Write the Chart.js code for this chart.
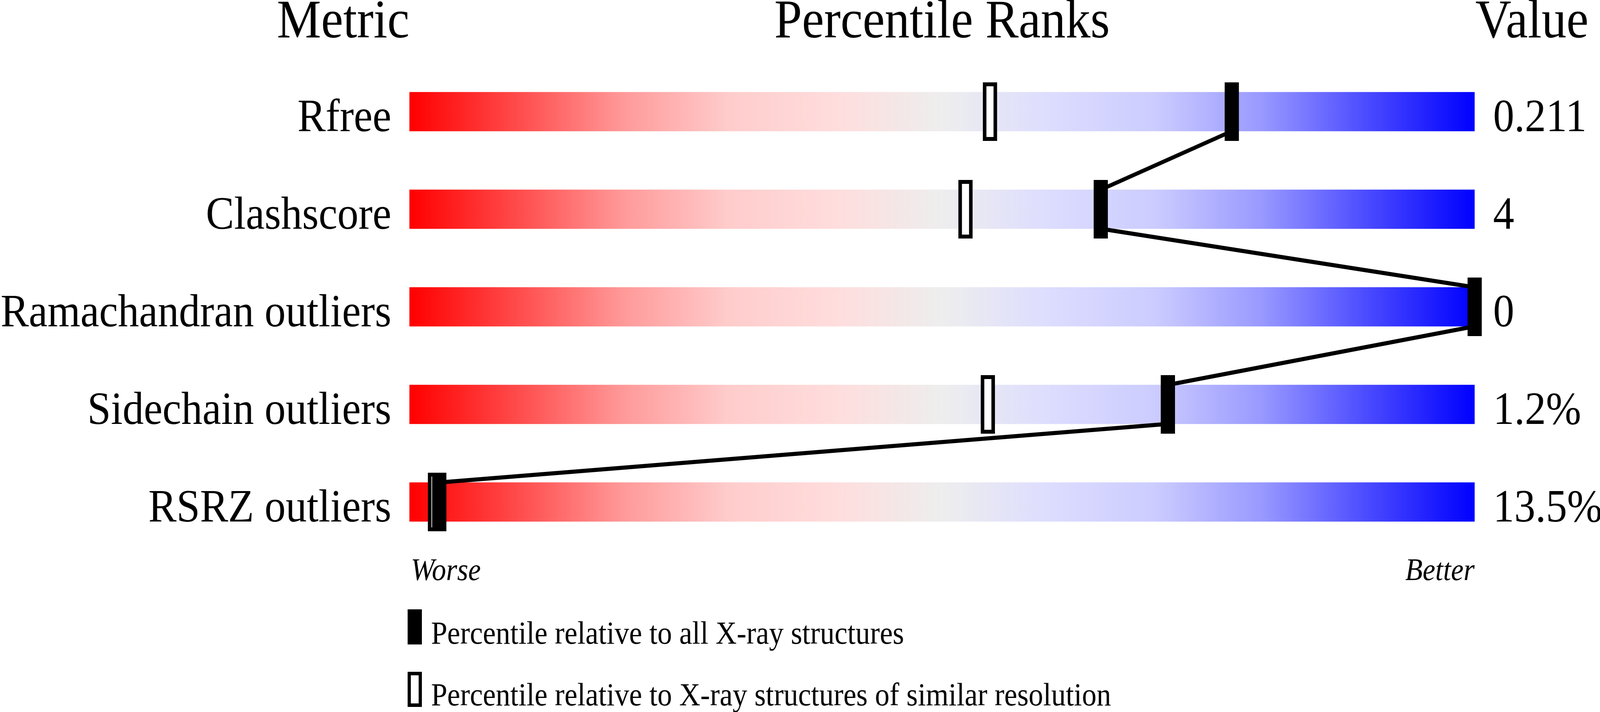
<!DOCTYPE html>
<html>
<head>
<meta charset="utf-8">
<script src="https://cdn.jsdelivr.net/npm/chart.js@4.4.1/dist/chart.umd.min.js"></script>
<style>
html,body{margin:0;padding:0;background:#ffffff;overflow:hidden;width:100vw;height:100vh}
canvas{display:block}
</style>
</head>
<body>
<canvas id="c" width="4506" height="1824" style="width:100vw;height:100vh"></canvas>
<script>
// ---- data ----
const categories = ['Rfree', 'Clashscore', 'Ramachandran outliers', 'Sidechain outliers', 'RSRZ outliers'];
const valueLabels = ['0.211', '4', '0', '1.2%', '13.5%'];
const percentileAll = [77.2, 64.9, 100, 71.2, 2.8];
const percentileSimilar = [54.5, 52.2, 100, 54.3, 2.4];
const headerLabels = ['Metric', 'Percentile Ranks', 'Value'];
const axisEndLabels = ['Worse', 'Better'];
const legendLabels = ['Percentile relative to all X-ray structures', 'Percentile relative to X-ray structures of similar resolution'];

// ---- style ----
const FONT = '"Liberation Serif", "Times New Roman", Times, serif';
const gradientStops = [
  [0.0, '#ff0000'], [0.1, '#ff4a4a'], [0.2, '#ff9999'], [0.3, '#ffcccc'],
  [0.4, '#ffdddd'], [0.5, '#eeeeee'], [0.6, '#ddddff'], [0.7, '#ccccff'],
  [0.8, '#9999ff'], [0.9, '#4a4aff'], [1.0, '#0000ff']
];

function makeMarker(w, h, border) {
  const c = document.createElement('canvas');
  c.width = w; c.height = h;
  const x = c.getContext('2d');
  x.fillStyle = '#000000';
  x.fillRect(0, 0, w, h);
  if (border) {
    x.fillStyle = '#ffffff';
    x.fillRect(border, border, w - 2 * border, h - 2 * border);
  }
  return c;
}
const filledMarker = makeMarker(40, 150, 0);
const openMarker = makeMarker(40, 150, 10);
const filledLegend = makeMarker(40, 90, 0);
const openLegend = makeMarker(40, 90, 9);

const lineData = percentileAll.flatMap((p, i) => [{x: p, y: i - 0.2}, {x: p, y: i + 0.2}]);

function barGradient(context) {
  const chart = context.chart;
  const xs = chart.scales.x;
  if (!chart.chartArea || !xs) return '#eeeeee';
  const g = chart.ctx.createLinearGradient(xs.getPixelForValue(0), 0, xs.getPixelForValue(100), 0);
  gradientStops.forEach(([o, c]) => g.addColorStop(o, c));
  return g;
}

const textPlugin = {
  id: 'textPlugin',
  afterDraw(chart) {
    const ctx = chart.ctx;
    const xs = chart.scales.x, ys = chart.scales.y;
    const x0 = xs.getPixelForValue(0), x100 = xs.getPixelForValue(100), x50 = xs.getPixelForValue(50);
    ctx.save();
    ctx.fillStyle = '#000000';
    ctx.textBaseline = 'alphabetic';
    // headers
    ctx.font = '140px ' + FONT;
    ctx.textAlign = 'right'; ctx.fillText(headerLabels[0], x0, 96);
    ctx.textAlign = 'center'; ctx.fillText(headerLabels[1], x50, 96);
    ctx.textAlign = 'left'; ctx.fillText(headerLabels[2], x100 + 2, 96);
    // row labels and values
    ctx.font = '119px ' + FONT;
    categories.forEach((c, i) => {
      const yb = ys.getPixelForValue(i + 0.2);
      ctx.textAlign = 'right'; ctx.fillText(c, x0 - 51, yb);
      ctx.textAlign = 'left'; ctx.fillText(valueLabels[i], x100 + 52, yb);
    });
    // worse / better
    ctx.font = 'italic 80px ' + FONT;
    ctx.textAlign = 'left'; ctx.fillText(axisEndLabels[0], x0 + 4, 1486);
    ctx.textAlign = 'right'; ctx.fillText(axisEndLabels[1], x100, 1486);
    // legend
    ctx.drawImage(filledLegend, x0 - 5, 1561);
    ctx.drawImage(openLegend, x0 - 5, 1721);
    ctx.font = '82px ' + FONT;
    ctx.textAlign = 'left';
    ctx.fillText(legendLabels[0], x0 + 61, 1649);
    ctx.fillText(legendLabels[1], x0 + 61, 1807);
    ctx.restore();
  }
};

new Chart(document.getElementById('c').getContext('2d'), {
  type: 'scatter',
  data: {
    datasets: [
      {
        type: 'scatter', label: 'all', data: percentileAll.map((p, i) => ({x: p, y: i})),
        pointStyle: filledMarker, pointRadius: 20, order: 0, clip: false
      },
      {
        type: 'scatter', label: 'similar', data: percentileSimilar.map((p, i) => ({x: p, y: i})),
        pointStyle: openMarker, pointRadius: 20, order: 1, clip: false
      },
      {
        type: 'line', label: 'link', data: lineData, borderColor: '#000000', borderWidth: 10.5,
        pointRadius: 0, fill: false, tension: 0, order: 2, clip: false, borderJoinStyle: 'round'
      },
      {
        type: 'bar', label: 'bars', indexAxis: 'y',
        data: categories.map((c, i) => ({x: [0, 100], y: i})),
        backgroundColor: barGradient, borderWidth: 0, barThickness: 100, order: 3
      }
    ]
  },
  options: {
    responsive: false,
    devicePixelRatio: 1,
    animation: false,
    events: [],
    layout: {padding: {left: 1153, right: 353, top: 161, bottom: 413}},
    plugins: {legend: {display: false}, tooltip: {enabled: false}, title: {display: false}},
    scales: {
      x: {type: 'linear', min: 0, max: 100, display: false, offset: false},
      y: {type: 'linear', min: -0.5, max: 4.5, reverse: true, display: false, offset: false, grid: {offset: false}}
    }
  },
  plugins: [textPlugin]
});
</script>
</body>
</html>
